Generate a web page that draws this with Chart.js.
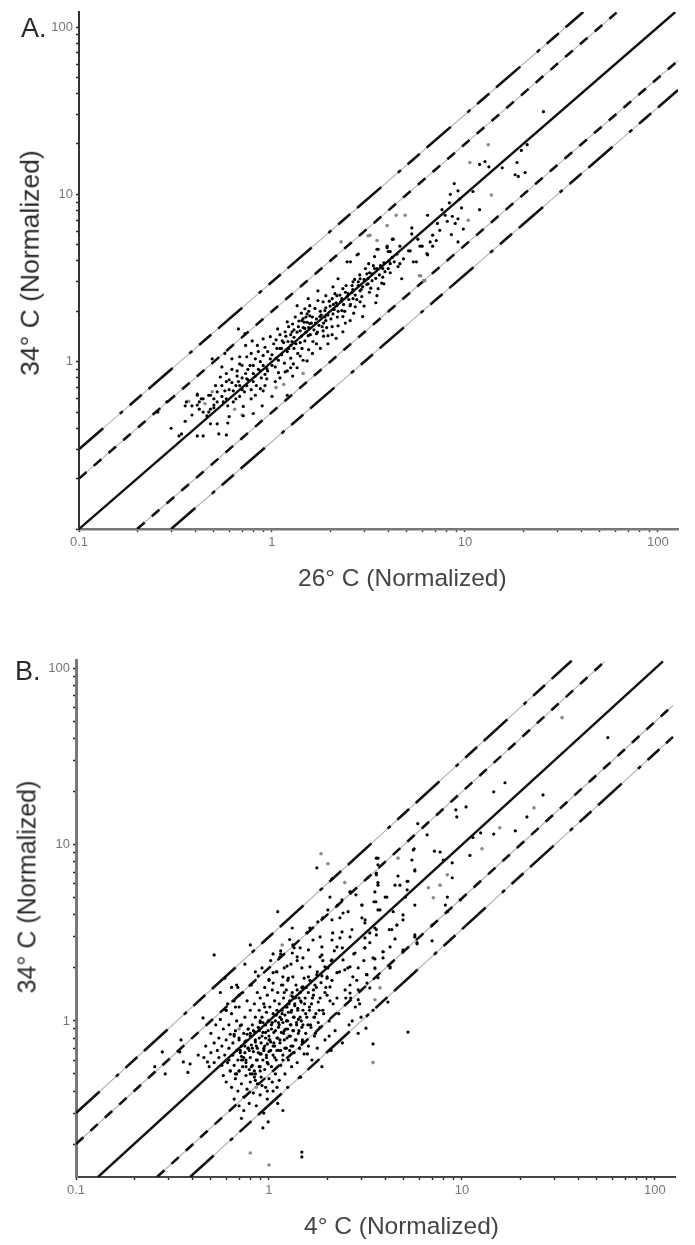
<!DOCTYPE html>
<html>
<head>
<meta charset="utf-8">
<title>34 C vs 26 C and 4 C</title>
<script src="https://cdn.jsdelivr.net/npm/chart.js@4/dist/chart.umd.min.js"></script>
<style>
  html, body { margin: 0; padding: 0; background: #fff; }
  body { position: relative; width: 695px; height: 1245px; overflow: hidden; font-family: "Liberation Sans", Arial, sans-serif; }
  canvas { position: absolute; left: 0; filter: blur(0.45px); }
  .txt { position: absolute; white-space: nowrap; color: #2a2a2a; line-height: 1; filter: blur(0.4px); }
  .panel { font-size: 27px; }
  .xt { font-size: 24.5px; color: #444; }
  .yt { transform: translate(-50%, -50%) rotate(-90deg); }
</style>
</head>
<body>
<canvas id="chartA" width="695" height="600" style="top:0"></canvas>
<canvas id="chartB" width="695" height="605" style="top:640px"></canvas>

<div class="txt panel" style="left:21px;top:15px">A.</div>
<div class="txt panel" style="left:15px;top:658px">B.</div>
<div class="txt xt" style="left:298px;top:566px">26° C (Normalized)</div>
<div class="txt xt" style="left:304px;top:1214px">4° C (Normalized)</div>
<div class="txt yt" style="left:30px;top:263px;font-size:26.5px">34° C (Normalized)</div>
<div class="txt yt" style="left:27px;top:887px;font-size:25px">34° C (Normalized)</div>

<script>
// tick positions and which ones carry a label
const tickValues = [0.1,0.2,0.3,0.4,0.5,0.6,0.7,0.8,0.9,1,2,3,4,5,6,7,8,9,10,20,30,40,50,60,70,80,90,100];
const xTickLabels = [0.1, 1, 10, 100];
const yTickLabels = [1, 10, 100];

// fold lines, panel A: [x start, x end] and [y start, y end]
const aEqualX = [0.1, 123];   const aEqualY = [0.1, 123];
const aTwoUpX = [0.1, 61];    const aTwoUpY = [0.2, 122];
const aThreeUpX = [0.1, 41];  const aThreeUpY = [0.3, 123];
const aTwoDownX = [0.2, 127]; const aTwoDownY = [0.1, 63];
const aThreeDownX = [0.3, 127]; const aThreeDownY = [0.1, 42];

// fold lines, panel B
const bEqualX = [0.13, 110];   const bEqualY = [0.13, 110];
const bTwoUpX = [0.1, 55];     const bTwoUpY = [0.2, 110];
const bThreeUpX = [0.1, 37];   const bThreeUpY = [0.3, 111];
const bTwoDownX = [0.263, 124]; const bTwoDownY = [0.13, 62];
const bThreeDownX = [0.39, 124]; const bThreeDownY = [0.13, 41];

// points
const aDarkX = [
  .3,.34,.355,.385,.355,.36,.385,.41,.42,.41,
  .44,.53,.58,.256,.285,.33,.67,.725,.73,.79,
  .84,.9,.98,1.07,1.2,1.17,1.13,1.21,1.27,1.35,
  1.48,1.45,1.57,1.4,1.54,1.63,1.43,1.52,1.29,1.2,
  1.36,1.06,.98,.9,.82,.74,.68,.62,.57,.49,
  .55,.58,.54,.66,.73,.8,.87,.94,1.04,1.17,
  .94,1.04,1.2,1,.9,.82,.89,.8,.71,.71,
  .63,.68,.6,.59,.52,.48,.46,.42,.48,.52,
  .44,.41,.51,.57,.63,.48,.56,.59,.74,.67,
  .58,.52,.8,.87,.74,.68,.77,.87,.66,.44,
  .47,.5,.5,.47,.43,.41,.55,.5,.6,.65,
  .7,.75,.8,.85,.9,1,1.05,.95,1,1.1,
  1.15,1.2,1.25,1.3,1.3,1.35,1.4,1.45,1.5,1.55,
  1.6,1.65,1.7,1.75,1.8,1.85,1.9,1.95,2,2.1,
  2.15,2.2,2.25,2.35,2.4,2.5,2.6,2.7,2.8,2.9,
  3,3.1,3.2,3.3,3.5,3.6,3.8,4,4.2,2.76,
  2.55,3.55,4.25,3.95,4,3.4,3.17,4.6,5.3,5.2,
  5.85,6.35,5.6,4.8,4.6,4.5,4.1,3.75,3.4,3.1,
  4.1,3.75,4.7,3.8,3.55,3.5,3.45,3.15,2.86,2.63,
  2.2,2.07,2.33,2.6,2.95,3.2,2.86,2.95,2.54,2.3,
  1.9,1.73,1.54,1.73,1.84,2.05,1.57,1.67,1.88,2.17,
  2.3,2.07,2.33,2.54,2.2,1.9,1.77,1.52,1.43,1.57,
  2.05,1.84,2.33,1.48,1.7,1.95,2.8,3.3,2.86,2.45,
  2.63,2.17,2.7,25.5,11.9,12.7,13.3,15.6,18.6,19.6,
  21,18.2,18.9,20.5,11.9,11,8.8,8.4,9.2,9.4,
  6.4,7.9,8.6,9.2,8.9,9.8,7.4,8.5,9.2,6.8,
  6.6,6.8,6.4,6,5.4,4.2,3.5,3.95,4.1,7.1,
  2.45,2.8,5.7,5.1,5.3,7.2,8.1,7.6,8.3,9.6,
  1.22,1.25,1.28,1.3,1.32,1.38,1.42,1.47,1.5,1.55,
  .92,1.02,1.08,1.12,1.16,1.25,1.28,1.35,1.45,1.55,
  1.62,1.7,1.78,1.85,1.95,2.05,2.15,2.4,2.65,3,
  .6,.62,.7,.78,.85,.72,.78,.83,.92,1.08,
  1.05,1.1,1.12,1.18,1.22,1.27,1.33,1.37,1.42,1.48,
  1.52,1.58,1.62,1.68,1.72,1.78,1.82,1.88,1.92,1.98,
  2.02,2.08,2.12,2.18,2.28,2.38,2.42,2.48,2.55,2.62,
  2.68,2.75,2.85,2.92,3.05,3.15,3.25,3.35,3.45,3.65,
  3.7,3.85,4.05,4.3,4.45,.55,.62,.68,.75,.82,
  .88,.95,.58,.65,.7,.78,.92,1.1,1.25,1.4
];
const aDarkY = [
  .4,.37,.44,.48,.545,.575,.545,.63,.575,.36,
  .36,.37,.365,.5,.575,.36,1.57,1.47,1.25,1.33,
  1.25,1.37,1.41,1.57,1.73,1.51,1.33,1.32,1.51,2.16,
  2.07,1.81,1.88,1.53,1.43,1.32,1.2,1.01,.97,.88,
  1.12,1.2,1.04,1.09,1.04,1.07,1.07,1.04,1.12,1.04,
  .93,.85,.81,.82,.85,.85,.88,.91,.93,.87,
  .79,.76,.63,.62,.67,.63,.545,.49,.475,.54,
  .575,.62,.47,.43,.425,.425,.475,.52,.52,.575,
  .6,.64,.72,.67,.67,.63,.575,.545,.72,.76,
  .76,.66,.76,.69,.79,.97,.95,1,.88,.5,
  .5,.53,.6,.63,.6,.55,.62,.55,.68,.72,
  .8,.9,.95,.9,.95,.95,1.05,1.15,1.1,1.2,
  1.3,1.15,1.25,1.4,1.2,1.5,1.3,1.6,1.5,1.6,
  1.7,1.55,1.8,1.65,1.9,1.7,2.1,1.9,2.15,2.05,
  2.25,2,2.5,2.2,2.6,2.35,2.85,2.5,3,2.7,
  3.1,2.9,3.4,3.05,3.6,3.3,3.9,3.6,4.2,4.35,
  3.95,4.7,5.4,4.8,4.55,4.25,3.85,4.9,5.8,4.6,
  4.9,4.42,3.95,4.12,3.85,3.7,3.85,3.6,3.6,3.35,
  3.4,3.2,3.13,2.92,2.73,2.48,2.25,2.92,3.13,3,
  3.13,2.8,2.73,2.6,2.8,2.6,2.28,1.86,2.16,2.38,
  2.48,2.65,2.38,2.32,2.28,2.38,2.16,2.08,2.02,2.16,
  2.02,1.93,1.86,1.76,1.64,1.76,1.86,1.93,1.76,1.69,
  1.62,1.53,1.51,1.58,1.47,1.43,2.85,3.35,2.65,2.45,
  2.38,2.48,2.13,31.2,15.1,15.7,14.6,14.4,15.5,18.3,
  19.8,13.1,12.8,13.5,8.1,10.4,11.6,10,10.5,9.4,
  7.5,7.5,7.4,7.15,6.7,6.2,6.1,5.75,5.2,5.7,
  5.2,4.9,4.35,4.9,3.95,5.4,4.7,4.9,4.55,5.3,
  3.95,4.4,5.4,4.6,6.3,6.7,6.9,8.1,8.9,8.3,
  1.62,1.45,1.68,1.55,1.85,1.75,1.95,1.72,1.85,2,
  1.22,1.28,1.02,1.1,.98,1.05,.82,.92,1.02,1.18,
  1.12,1.28,1.2,1.42,1.28,1.45,1.38,1.7,1.95,2.15,
  .78,.9,.95,1.12,1.15,.66,.68,.72,.84,.86,
  1.35,1.45,1.2,1.42,1.2,1.32,1.28,1.62,1.42,1.33,
  1.72,1.45,1.85,1.7,1.5,2,1.62,1.85,1.6,2.3,
  1.8,2.2,2.55,1.85,2.3,2,2.85,2.55,2.2,2.7,
  3.1,2.35,3.3,2.45,3.6,3.15,2.75,3.75,3.15,3.75,
  2.95,3.45,4,3.95,4.4,.72,.75,.72,.78,.82,
  .8,.88,.6,.6,.68,.6,.72,.8,.92,1.08
];
const aGrayX = [13.2,10.6,13.7,4.9,4.4,3.95,3.15,3.5,2.28,3.22,5.9,6.1,10.4,5.8,6.2,.37,.45,.49,.64,.7,1.05,1.15,1.45];
const aGrayY = [19.8,15.5,9.9,7.5,7.5,6.5,5.65,5.3,5.2,5.7,3.26,3.05,7,3.26,3.05,.58,.56,.66,.52,.48,.7,.73,.85];

// points
const bDarkX = [
  .52,1.48,1.48,1.18,.99,.93,.72,.28,.256,.29,
  .345,.35,.455,.38,.36,.39,.43,.48,57,16.7,
  14.6,26.3,21.7,18.9,14.6,11,12.5,11.4,10.5,9.3,
  9.4,6.6,5.9,5.65,7.2,7.7,8.9,8,5.7,3.67,
  5.25,4.77,3.6,3.67,8.9,8.4,8.2,9.8,8.4,5.7,
  5.1,4.08,4.4,4.95,3.03,3.5,2.63,3.15,4.6,4.2,
  5.7,7,3.67,3.6,3.18,3.46,5.25,4.13,3.46,3.33,
  2.9,2.9,2.63,4.24,3.9,4.95,5.85,7,3.2,3.67,
  3.54,3.14,1.77,1.11,2.12,2.07,2.63,2.82,3.03,3.6,
  3.67,3.25,3.6,3.67,3.54,3.58,3.76,4,4.66,4.5,
  5.2,5.2,5.7,5.6,5.5,2.39,2.27,2.42,2.57,2.02,
  1.9,2.12,2.33,1.79,1.32,1.63,1.57,1.84,2.14,2.39,
  2.69,3.03,3.14,3.54,4.33,4.6,4.5,4.24,3.9,4.95,
  3.6,3.33,3.14,5.7,5.85,4.95,1.33,1.45,1.6,1.69,
  1.88,1.88,2.12,2.33,2.25,2.63,3.14,2.79,3.33,1.14,
  1.32,1.4,1.5,1.24,1.48,1.63,1.84,1.95,2.12,2.42,
  2.63,2.9,3.46,3.9,4.24,3.54,3.22,2.72,2.47,2.25,
  2,1.77,1.6,1.33,1.18,1.05,1.05,1.18,1.5,1.73,
  2.07,2.63,3.22,.46,.47,.49,.5,.5,.52,.52,
  .53,.54,.55,.55,.56,.57,.57,.58,.58,.59,
  .6,.6,.6,.61,.62,.62,.63,.63,.64,.64,
  .65,.65,.66,.66,.66,.67,.67,.68,.68,.69,
  .69,.7,.7,.7,.7,.71,.72,.72,.72,.73,
  .73,.74,.74,.74,.75,.75,.76,.76,.76,.77,
  .77,.78,.78,.79,.79,.8,.8,.8,.8,.81,
  .81,.82,.82,.83,.83,.84,.84,.85,.85,.85,
  .86,.86,.87,.87,.87,.88,.88,.89,.89,.89,
  .9,.9,.9,.9,.91,.91,.92,.92,.93,.93,
  .94,.94,.94,.95,.95,.96,.96,.96,.97,.97,
  .98,.98,.98,.99,.99,1,1,1,1,1,
  1.01,1.02,1.02,1.03,1.03,1.04,1.05,1.05,1.05,1.06,
  1.07,1.07,1.08,1.08,1.09,1.09,1.1,1.1,1.11,1.11,
  1.12,1.12,1.13,1.13,1.14,1.14,1.15,1.15,1.16,1.16,
  1.17,1.18,1.18,1.19,1.2,1.2,1.21,1.21,1.22,1.23,
  1.23,1.24,1.25,1.25,1.26,1.26,1.27,1.28,1.28,1.29,
  1.3,1.3,1.31,1.32,1.33,1.34,1.35,1.36,1.37,1.38,
  1.39,1.4,1.41,1.42,1.43,1.44,1.45,1.46,1.47,1.48,
  1.49,1.5,1.52,1.54,1.55,1.57,1.6,1.62,1.64,1.67,
  1.7,1.72,1.75,1.78,1.8,1.84,1.88,1.9,1.95,2,
  2.05,2.1,2.15,2.2,2.3,2.4,2.5,2.6,2.7,2.8,
  2.9,3,.62,.66,.68,.7,.72,.74,.76,.78,
  .8,.82,.84,.86,.88,.9,.92,.94,.96,.98,
  1,1.02,1.04,1.06,1.08,1.1,1.12,1.14,1.16,1.18,
  1.2,1.22,1.24,1.26,1.28,1.3,1.32,1.34,1.36,1.38,
  1.4,1.42,1.44,1.46,1.48,1.5,1.52,1.55,1.58,1.6,
  1.63,1.66,1.7,1.74,1.78,1.82,1.86,1.9,1.95,2,
  2.05,2.1,.95,1,1.05,1.1,1.15,1.2,1.25,1.3,
  1.35,1.4,.85,.8,.75,.7,.65,.6,.9,.78,.72,.68,
  .64,.67,.69,.71,.73,.75,.77,.79,.81,.83,
  .85,.87,.89,.91,.93,.95,.97,.99,1.01,1.03,
  1.05,1.07,1.09,1.11,1.13,1.15,1.17,1.19,1.21,1.23,
  1.25,1.27,1.29,1.31,1.33,1.35,1.37,1.39,1.41,1.43,
  1.45,1.47,1.49,1.53,1.56,1.59,1.62,1.65,1.68,1.72,
  1.76,1.8,1.84,1.88,1.92,1.97,2.02,2.07,2.12,2.18,
  2.25,2.32,2.4,2.48,2.56,2.65,2.75,2.85,2.95,3.1,
  .56,.59,.61,.63,.66,.71,.75,.8,.85,.92,
  .98,1.04,1.1,.9,.82,.76,.7,.67,.84,.98
];
const bDarkY = [
  2.37,.18,.169,.31,.267,.247,.28,.667,.55,.5,
  .667,.78,1.04,.51,.585,.57,.64,.585,40.6,22.5,
  20,19.2,14.4,12,11.5,8.7,11.7,11,16.4,15.8,
  14.4,11.4,13.2,9.5,9.2,9.1,7.9,8.2,7.2,8.4,
  6.2,5.9,6.75,5.9,6.5,5.05,4.55,4.87,4.17,4.55,
  5.05,5.05,4.17,4,4.55,4.75,5.4,3.75,3.5,3.3,
  3.08,3.5,4.27,3.3,.91,.74,.865,1.28,1.15,1.54,
  1.5,1.32,1.44,2,2.47,2.47,2.74,2.85,1.83,1.76,
  2.25,2.6,7.4,4.17,6.4,5.05,5.4,5.2,4.55,8.4,
  7.7,6.5,6.9,6.1,5.4,4.75,4.27,5.05,6.65,5.9,
  6.2,5.55,7.1,9.35,8.2,4.87,4.55,4.1,4.17,4.27,
  3.85,3.75,3.85,3.65,3.37,3.37,3.16,3,3.16,3.2,
  3.3,3.85,3.6,3.37,3.3,3.5,2.92,2.63,2.47,3.75,
  3.08,3.16,2.96,3,2.78,2.53,2.7,2.6,2.53,2.88,
  2.63,2.37,2.88,2.96,2.63,3,2.6,2.43,2.78,2.31,
  2.43,2.31,2.28,2.05,2,2.03,2.31,2.03,2.22,2.22,
  2.03,2,2.28,2.28,2.03,2,1.83,1.78,1.95,1.88,
  1.78,1.83,1.78,1.78,1.78,1.88,1.64,1.6,1.56,1.6,
  1.56,1.6,1.64,.62,.72,.55,.85,.66,.58,.75,
  .95,.68,.62,.8,1.02,.72,.56,.9,.49,.64,
  .78,1.15,.45,.58,.7,.95,.52,.84,1.1,.42,
  .64,.75,.36,.56,1.3,.47,.88,.68,1,.6,
  .4,.52,.78,1.2,.33,.94,.44,.63,.72,.55,
  1.45,.37,.85,.31,.66,1.05,.49,.58,.77,1.3,
  .41,.9,.7,.53,.34,.62,1.15,.82,.45,1.6,
  .73,.56,.95,.39,.67,1.25,.87,.5,.78,1.05,
  .33,.6,1.45,.7,.44,.92,1.8,.55,.8,1.15,
  .65,.38,1.35,.98,.75,.48,2,1.05,.6,.86,
  .3,1.25,.7,.53,1.55,.95,.42,.8,.64,1.12,
  1.4,.74,.36,.88,.57,1,1.7,.67,.47,.82,
  1.2,2.2,.76,.55,.95,1.5,.64,1.1,.4,.86,
  1.3,.72,.5,1,1.9,.6,.8,1.15,.34,1.45,
  .92,.68,.46,1.25,1.05,.75,2.5,.56,.86,1.6,
  1.15,.64,.98,1.35,.78,2,.5,1.08,.9,1.5,
  .7,1.2,.42,1,.6,1.75,.82,1.3,2.9,.95,
  .72,1.12,.55,1.45,.88,1.05,.66,1.25,.78,1.6,
  .98,.58,1.15,.85,1.35,.7,1.05,.48,1.28,.92,
  .76,1.15,.65,1.35,.85,1.05,.72,1.2,.95,.6,
  1.4,.82,1.1,.7,1.28,.92,.55,1.15,.78,1.4,
  1,.68,1.25,.88,1.1,.75,1.35,.95,1,1.2,
  .85,1.05,.6,.84,.5,.8,.6,.62,.6,.7,
  .85,.7,.48,.72,.66,.55,.82,.68,.86,.58,
  .78,.68,.98,.75,.88,.68,.98,.78,1.02,.6,
  .88,1.2,.8,1.12,.68,.95,1.38,.88,1.22,.78,
  1.5,1.02,.7,1.3,1.55,.95,1.75,1.1,.65,1.45,
  1.7,1.25,1.5,.85,1.9,1.15,1.65,2.2,1.45,1.75,
  .82,2.2,1.2,1.72,2.4,1.9,2.4,1.45,1.7,2.1,
  2.6,2.2,1.9,2.7,2.1,1.4,1.3,1.15,1,.9,.95,1.6,1.55,1.2,1.55,
  .68,.6,.72,.84,.68,.55,.88,.76,.6,.88,
  .65,.98,.72,.62,1,.78,.9,.72,.62,1.08,
  .8,.95,.68,1.1,.85,.7,1,.9,1.25,.82,
  1.15,.72,1.05,1.35,.95,1.18,.88,1.45,1,.78,
  1.25,1.55,.95,1.15,.92,1.35,1.05,1.55,.98,1.35,
  1.8,1.1,1.55,2,1.3,1.7,2.5,1.35,1.9,2.6,
  1.5,2,1.35,2.4,1.7,1.25,2.2,1.45,1.75,1.25,
  .52,.82,.66,.76,.5,.46,.43,.4,.45,.42,
  .52,.5,.55,.52,.5,.52,.58,.72,.96,1.2
];
const bGrayX = [.8,1,1.86,2.02,2.47,33,23.6,15.7,12.7,4.66,8.4,6.7,7.7,7.1,3.54,3.76,3.54,3.46,1.17,.86,.7,1.3,1.7];
const bGrayY = [.178,.152,8.9,7.8,6.1,52.7,16.2,12.5,9.5,8.4,6.75,5.7,5.9,5,1.32,1.54,1.97,.58,2.7,.42,.9,1.4,1.05];

function zipXY(xs, ys) {
  return xs.map((x, i) => ({ x: x, y: ys[i] }));
}

const longDash = [32, 22, 4, 9, 16, 9];
const shortDash = [10, 9.5];

// one fold line = a thin grey solid line with the black dashes on top
function foldLine(xs, ys, dash) {
  return [
    { data: zipXY(xs, ys), showLine: true, pointRadius: 0, borderColor: '#111', borderWidth: 2.6, borderDash: dash },
    { data: zipXY(xs, ys), showLine: true, pointRadius: 0, borderColor: '#b0b0b0', borderWidth: 1.1 }
  ];
}

function axis(min, max, labels, afterFit, borderColor, borderWidth) {
  return {
    type: 'logarithmic',
    min: min,
    max: max,
    afterFit: afterFit,
    afterBuildTicks: scale => {
      scale.ticks = tickValues.filter(v => v >= min && v <= max).map(v => ({ value: v }));
    },
    border: { color: borderColor, width: borderWidth },
    grid: { drawOnChartArea: false, tickLength: 3, tickColor: '#222', tickWidth: 1.4 },
    ticks: {
      autoSkip: false,
      maxRotation: 0,
      padding: 3,
      color: '#777',
      font: { family: '"Liberation Sans"', size: 13 },
      callback: v => labels.includes(v) ? String(v) : ''
    }
  };
}

function makeChart(id, cfg) {
  const sets = [
    { data: zipXY(cfg.darkX, cfg.darkY), pointRadius: 1.6, pointBackgroundColor: '#000', pointBorderWidth: 0 },
    { data: zipXY(cfg.grayX, cfg.grayY), pointRadius: 1.8, pointBackgroundColor: '#8a8a8a', pointBorderWidth: 0 }
  ].concat(
    [{ data: zipXY(cfg.lines[0][0], cfg.lines[0][1]), showLine: true, pointRadius: 0, borderColor: '#111', borderWidth: 2.4 }],
    foldLine(cfg.lines[1][0], cfg.lines[1][1], shortDash),
    foldLine(cfg.lines[2][0], cfg.lines[2][1], longDash),
    foldLine(cfg.lines[3][0], cfg.lines[3][1], shortDash),
    foldLine(cfg.lines[4][0], cfg.lines[4][1], longDash)
  );

  new Chart(document.getElementById(id).getContext('2d'), {
    type: 'scatter',
    data: { datasets: sets },
    options: {
      responsive: false,
      animation: false,
      layout: { padding: cfg.padding },
      plugins: { legend: { display: false }, tooltip: { enabled: false } },
      scales: {
        x: axis(0.1, cfg.xMax, xTickLabels, s => { s.height = cfg.xAxisHeight; }, cfg.xBorder[0], cfg.xBorder[1]),
        y: axis(cfg.yMin, cfg.yMax, yTickLabels, s => { s.width = cfg.yAxisWidth; }, cfg.yBorder[0], cfg.yBorder[1])
      }
    }
  });
}

makeChart('chartA', {
  darkX: aDarkX, darkY: aDarkY, grayX: aGrayX, grayY: aGrayY,
  lines: [[aEqualX, aEqualY], [aTwoUpX, aTwoUpY], [aThreeUpX, aThreeUpY], [aTwoDownX, aTwoDownY], [aThreeDownX, aThreeDownY]],
  xMax: 127, yMin: 0.1, yMax: 123,
  padding: { top: 12, right: 17, left: 0, bottom: 0 },
  xAxisHeight: 71, yAxisWidth: 79,
  xBorder: ['#777', 2.4], yBorder: ['#333', 2]
});

makeChart('chartB', {
  darkX: bDarkX, darkY: bDarkY, grayX: bGrayX, grayY: bGrayY,
  lines: [[bEqualX, bEqualY], [bTwoUpX, bTwoUpY], [bThreeUpX, bThreeUpY], [bTwoDownX, bTwoDownY], [bThreeDownX, bThreeDownY]],
  xMax: 127, yMin: 0.13, yMax: 112,
  padding: { top: 20, right: 20, left: 0, bottom: 0 },
  xAxisHeight: 68, yAxisWidth: 76,
  xBorder: ['#444', 2], yBorder: ['#777', 3]
});
</script>
</body>
</html>
